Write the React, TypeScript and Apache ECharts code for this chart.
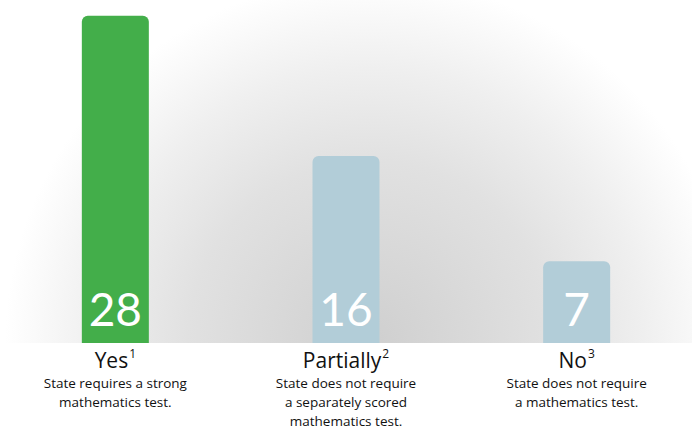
import React, { useEffect, useRef } from "react";
import * as echarts from "echarts";

const categories = ["Yes", "Partially", "No"];
const footnotes = ["1", "2", "3"];
const descriptions = [
  ["State requires a strong", "mathematics test."],
  ["State does not require", "a separately scored", "mathematics test."],
  ["State does not require", "a mathematics test."],
];
const values = [28, 16, 7];
const barColors = ["#43ae4a", "#b2cdd8", "#b2cdd8"];

export default function App() {
  const ref = useRef<HTMLDivElement>(null);
  useEffect(() => {
    if (!ref.current) return;
    document.body.style.margin = "0";
    const chart = echarts.init(ref.current, null, { renderer: "svg" });
    const font = "'Open Sans', 'Noto Sans', sans-serif";
    chart.setOption({
      animation: false,
      backgroundColor: "#ffffff",
      graphic: [
        {
          type: "rect",
          z: -10,
          silent: true,
          shape: { x: 0, y: 0, width: 692, height: 343 },
          style: {
            fill: {
              type: "radial",
              x: 370,
              y: 343,
              r: 365,
              global: true,
              colorStops: [
                { offset: 0, color: "#cfcfcf" },
                { offset: 0.5, color: "#e1e1e1" },
                { offset: 0.75, color: "#efefef" },
                { offset: 0.92, color: "#fafafa" },
                { offset: 1, color: "#ffffff" },
              ],
            },
          },
        },
      ],
      grid: { left: 0, right: 0, top: 4, bottom: 88 },
      xAxis: {
        type: "category",
        data: categories,
        axisLine: { show: false },
        axisTick: { show: false },
        axisLabel: {
          margin: 4,
          interval: 0,
          formatter: (v: string, i: number) => {
            const lines = descriptions[i].map((d) => `{d|${d}}`).join("\n");
            return `{t|${v}}{s|${footnotes[i]}}\n${lines}`;
          },
          rich: {
            t: { fontSize: 21, lineHeight: 26, color: "#111", fontFamily: font },
            s: { fontSize: 12, lineHeight: 26, verticalAlign: "top", color: "#111", fontFamily: font, padding: [0, 0, 9, 1] },
            d: { fontSize: 13.5, lineHeight: 19, color: "#111", fontFamily: font },
          },
        },
      },
      yAxis: {
        type: "value",
        min: 0,
        max: 29,
        show: false,
        splitLine: { show: false },
      },
      series: [
        {
          type: "bar",
          barWidth: 67,
          data: values.map((v, i) => ({ value: v, itemStyle: { color: barColors[i] } })),
          itemStyle: { borderRadius: [6, 6, 0, 0] },
          label: {
            show: true,
            position: "insideBottom",
            distance: 12,
            color: "#ffffff",
            fontSize: 46,
            fontWeight: 400,
            fontFamily: "Lato, 'Open Sans', sans-serif",
          },
        },
      ],
    });
    return () => chart.dispose();
  }, []);
  return <div ref={ref} style={{ position: "absolute", left: 0, top: 0, width: 692, height: 431 }} />;
}
